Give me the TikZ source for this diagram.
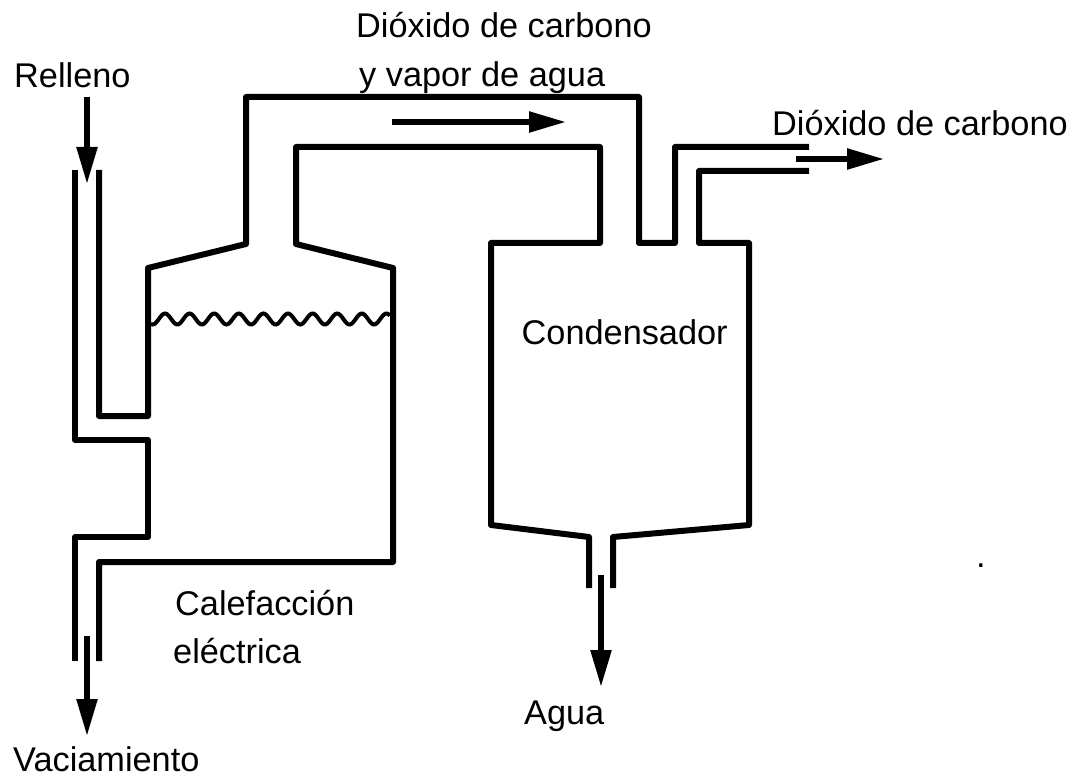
\documentclass[tikz,border=0pt]{standalone}
\usepackage{fontspec}
\setmainfont{Liberation Sans}
\usetikzlibrary{arrows.meta}

\begin{document}
\begin{tikzpicture}[x=1pt,y=-1pt,>={Triangle[length=37pt,width=20pt]},
    pipe/.style={line width=6pt,line join=round},
    flow/.style={->,line width=5.5pt},
    water/.style={line width=4pt},
    tag/.style={anchor=base west,inner sep=0pt,font=\fontsize{34.3}{40}\selectfont}]
  \useasboundingbox (0,0) rectangle (1075,775);
  % boiler with its feed and drain pipes
  \draw[pipe] (75,170) -- (75,440) -- (148,440) -- (148,537) -- (75,537) -- (75,661);
  \draw[pipe] (99,170) -- (99,416) -- (148,416) -- (148,268) -- (246,244) -- (246,97) -- (639,97) -- (639,243) -- (675,243) -- (675,147) -- (809,147);
  \draw[pipe] (99,661) -- (99,562) -- (393,562) -- (393,268) -- (296,244) -- (296,147) -- (600,147) -- (600,243) -- (491,243) -- (491,525) -- (589,537) -- (589,588);
  \draw[pipe] (809,171) -- (699,171) -- (699,243) -- (749,243) -- (749,525) -- (613,537) -- (613,588);
  \draw[water] plot[domain=151:390,samples=150,smooth] (\x,{319-5.5*cos(14.634*(\x-165))});
  % flows
  \draw[flow] (87,97) -- (87,184);
  \draw[flow] (392,122) -- (566,122);
  \draw[flow] (796,159) -- (884,159);
  \draw[flow] (87,636) -- (87,736);
  \draw[flow] (601,575) -- (601,687);
  % labels
  \node[tag] (Relleno) at (14,87.5) {Relleno};
  \node[tag] (Dioxido) at (356,38) {Dióxido de carbono};
  \node[tag] (Vapor) at (359,87) {y vapor de agua};
  \node[tag] (Salida) at (772,136) {Dióxido de carbono};
  \node[tag] (Condensador) at (521.5,344) {Condensador};
  \node[tag] (Calefaccion) at (175,615) {Calefacción};
  \node[tag] (Electrica) at (173,663) {eléctrica};
  \node[tag] (Agua) at (524,724) {Agua};
  \node[tag] (Vaciamiento) at (13,771) {Vaciamiento};
  \node[tag] (Punto) at (976,567) {.};
\end{tikzpicture}
\end{document}
